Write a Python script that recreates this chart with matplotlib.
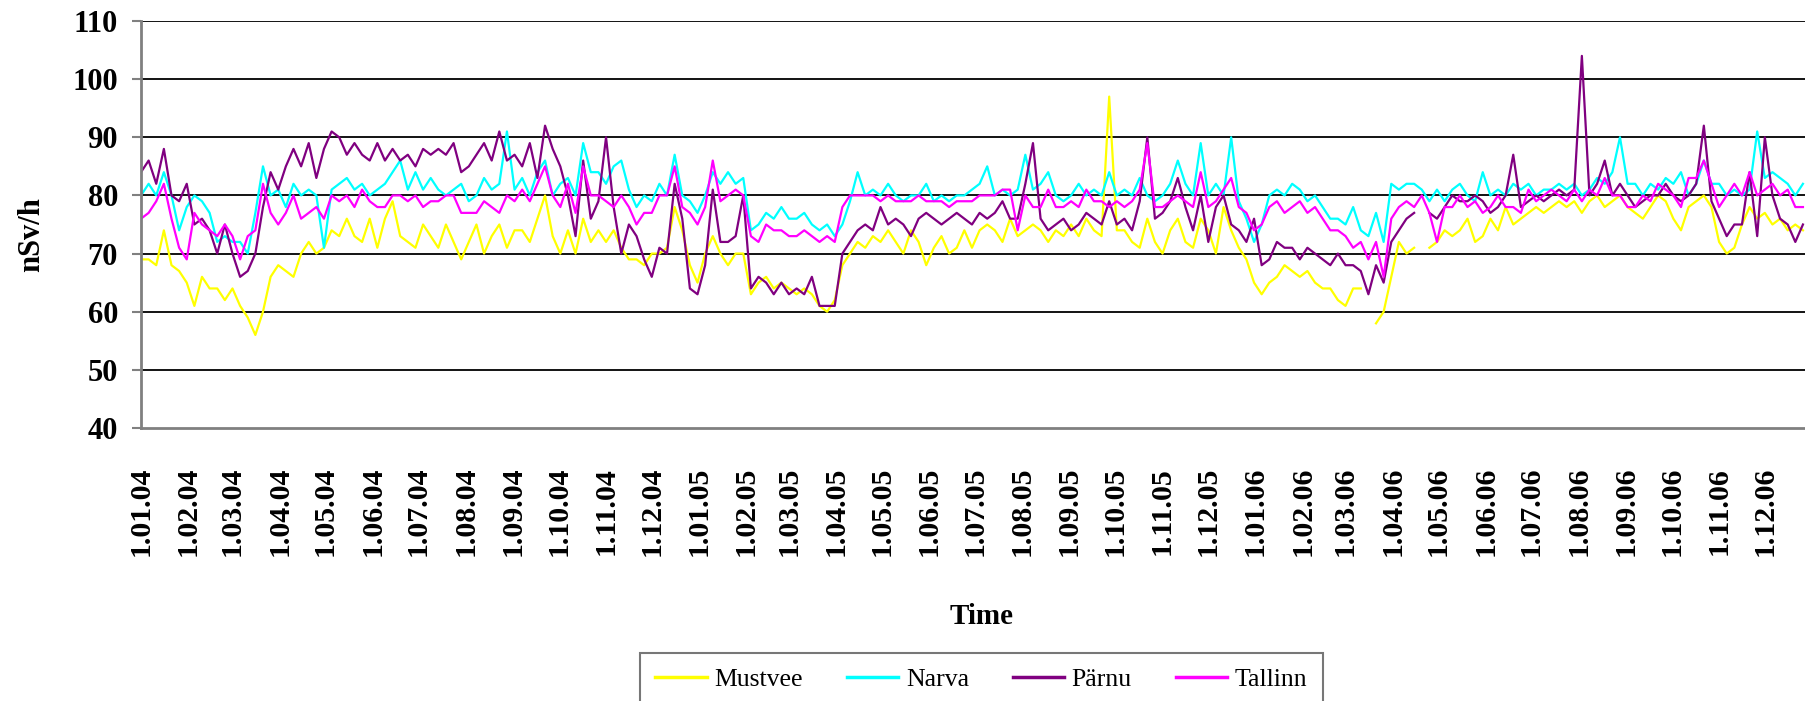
import numpy as np
import matplotlib
matplotlib.use("Agg")
import matplotlib.pyplot as plt
import matplotlib.dates as mdates
from matplotlib.ticker import FuncFormatter

plt.rcParams['font.family'] = ['Liberation Serif', 'DejaVu Serif']

# daily dose rate sampled every 5 days starting 1.01.2004 (nSv/h)
start = np.datetime64('2004-01-01')
step_days = 5

mustvee = [
    69, 69, 68, 74, 68, 67, 65, 61, 66, 64,
    64, 62, 64, 61, 59, 56, 60, 66, 68, 67,
    66, 70, 72, 70, 71, 74, 73, 76, 73, 72,
    76, 71, 76, 79, 73, 72, 71, 75, 73, 71,
    75, 72, 69, 72, 75, 70, 73, 75, 71, 74,
    74, 72, 76, 80, 73, 70, 74, 70, 76, 72,
    74, 72, 74, 71, 69, 69, 68, 70, 70, 71,
    78, 74, 68, 65, 70, 73, 70, 68, 70, 70,
    63, 65, 66, 64, 65, 64, 63, 64, 63, 61,
    60, 62, 68, 70, 72, 71, 73, 72, 74, 72,
    70, 74, 72, 68, 71, 73, 70, 71, 74, 71,
    74, 75, 74, 72, 76, 73, 74, 75, 74, 72,
    74, 73, 75, 73, 76, 74, 73, 97, 74, 74,
    72, 71, 76, 72, 70, 74, 76, 72, 71, 76,
    74, 70, 78, 74, 71, 69, 65, 63, 65, 66,
    68, 67, 66, 67, 65, 64, 64, 62, 61, 64,
    64, np.nan, 58, 60, 66, 72, 70, 71, np.nan, 71,
    72, 74, 73, 74, 76, 72, 73, 76, 74, 78,
    75, 76, 77, 78, 77, 78, 79, 78, 79, 77,
    79, 80, 78, 79, 80, 78, 77, 76, 78, 80,
    79, 76, 74, 78, 79, 80, 78, 72, 70, 71,
    75, 78, 76, 77, 75, 76, 74, 75, 74,
]

narva = [
    80, 82, 80, 84, 80, 74, 78, 80, 79, 77,
    72, 73, 72, 72, 70, 77, 85, 80, 81, 78,
    82, 80, 81, 80, 71, 81, 82, 83, 81, 82,
    80, 81, 82, 84, 86, 81, 84, 81, 83, 81,
    80, 81, 82, 79, 80, 83, 81, 82, 91, 81,
    83, 80, 84, 86, 80, 82, 83, 80, 89, 84,
    84, 82, 85, 86, 81, 78, 80, 79, 82, 80,
    87, 80, 79, 77, 80, 84, 82, 84, 82, 83,
    74, 75, 77, 76, 78, 76, 76, 77, 75, 74,
    75, 73, 75, 79, 84, 80, 81, 80, 82, 80,
    79, 80, 80, 82, 79, 80, 79, 80, 80, 81,
    82, 85, 80, 81, 80, 81, 87, 81, 82, 84,
    80, 79, 80, 82, 80, 81, 80, 84, 80, 81,
    80, 83, 80, 79, 80, 82, 86, 82, 80, 89,
    80, 82, 80, 90, 79, 76, 72, 75, 80, 81,
    80, 82, 81, 79, 80, 78, 76, 76, 75, 78,
    74, 73, 77, 72, 82, 81, 82, 82, 81, 79,
    81, 79, 81, 82, 80, 79, 84, 80, 81, 80,
    82, 81, 82, 80, 81, 81, 82, 81, 82, 80,
    81, 83, 82, 84, 90, 82, 82, 80, 82, 81,
    83, 82, 84, 80, 82, 86, 82, 82, 80, 81,
    80, 81, 91, 83, 84, 83, 82, 80, 82,
]

parnu = [
    84, 86, 82, 88, 80, 79, 82, 75, 76, 74,
    70, 75, 70, 66, 67, 70, 78, 84, 81, 85,
    88, 85, 89, 83, 88, 91, 90, 87, 89, 87,
    86, 89, 86, 88, 86, 87, 85, 88, 87, 88,
    87, 89, 84, 85, 87, 89, 86, 91, 86, 87,
    85, 89, 83, 92, 88, 85, 80, 73, 86, 76,
    79, 90, 78, 70, 75, 73, 69, 66, 71, 70,
    82, 76, 64, 63, 68, 81, 72, 72, 73, 80,
    64, 66, 65, 63, 65, 63, 64, 63, 66, 61,
    61, 61, 70, 72, 74, 75, 74, 78, 75, 76,
    75, 73, 76, 77, 76, 75, 76, 77, 76, 75,
    77, 76, 77, 79, 76, 76, 82, 89, 76, 74,
    75, 76, 74, 75, 77, 76, 75, 79, 75, 76,
    74, 79, 90, 76, 77, 79, 83, 78, 74, 80,
    72, 78, 80, 75, 74, 72, 76, 68, 69, 72,
    71, 71, 69, 71, 70, 69, 68, 70, 68, 68,
    67, 63, 68, 65, 72, 74, 76, 77, np.nan, 77,
    76, 78, 80, 79, 79, 80, 79, 77, 78, 80,
    87, 78, 79, 80, 79, 80, 81, 80, 81, 104,
    80, 82, 86, 80, 82, 80, 78, 79, 80, 80,
    82, 80, 79, 80, 82, 92, 79, 76, 73, 75,
    75, 84, 73, 90, 80, 76, 75, 72, 75,
]

tallinn = [
    76, 77, 79, 82, 76, 71, 69, 77, 75, 74,
    73, 75, 73, 69, 73, 74, 82, 77, 75, 77,
    80, 76, 77, 78, 76, 80, 79, 80, 78, 81,
    79, 78, 78, 80, 80, 79, 80, 78, 79, 79,
    80, 80, 77, 77, 77, 79, 78, 77, 80, 79,
    81, 79, 82, 85, 80, 78, 82, 77, 85, 80,
    80, 79, 78, 80, 78, 75, 77, 77, 80, 80,
    85, 78, 77, 75, 78, 86, 79, 80, 81, 80,
    73, 72, 75, 74, 74, 73, 73, 74, 73, 72,
    73, 72, 78, 80, 80, 80, 80, 79, 80, 79,
    79, 79, 80, 79, 79, 79, 78, 79, 79, 79,
    80, 80, 80, 81, 81, 74, 80, 78, 78, 81,
    78, 78, 79, 78, 81, 79, 79, 78, 79, 78,
    79, 81, 89, 78, 78, 79, 80, 79, 78, 84,
    78, 79, 81, 83, 78, 77, 74, 75, 78, 79,
    77, 78, 79, 77, 78, 76, 74, 74, 73, 71,
    72, 69, 72, 66, 76, 78, 79, 78, 80, 77,
    72, 78, 78, 80, 78, 79, 77, 78, 80, 78,
    78, 77, 81, 79, 80, 81, 80, 79, 81, 79,
    81, 80, 83, 80, 80, 78, 78, 80, 79, 82,
    81, 80, 78, 83, 83, 86, 82, 78, 80, 82,
    80, 84, 80, 81, 82, 80, 81, 78, 78,
]

names = ["Mustvee", "Narva", "Pärnu", "Tallinn"]
colors = ["#FFFF00", "#00FFFF", "#800080", "#FF00FF"]
series = [mustvee, narva, parnu, tallinn]

dates = start + np.arange(len(mustvee)) * step_days

fig = plt.figure(figsize=(18.06, 7.01), dpi=100)
ax = fig.add_axes([141 / 1806, 1 - 428 / 701, 1 - 141 / 1806, (428 - 21) / 701])

for name, col, vals in zip(names, colors, series):
    ax.plot(dates.astype('datetime64[D]').astype(object), vals, color=col, lw=1.6, label=name)

ax.set_ylim(40, 110)
ax.set_yticks(range(40, 111, 10))
ax.set_xlim(np.datetime64('2004-01-01').astype(object), (start + 1092).astype(object))

ax.xaxis.set_major_locator(mdates.MonthLocator())
ax.xaxis.set_major_formatter(FuncFormatter(
    lambda v, pos: "{}.{:02d}.{:02d}".format(mdates.num2date(v).day, mdates.num2date(v).month,
                                           mdates.num2date(v).year % 100)))

for y in range(50, 111, 10):
    ax.axhline(y, color="black", lw=1.3, zorder=0)

for s in ["top", "right"]:
    ax.spines[s].set_visible(False)
ax.spines["left"].set_color("#808080")
ax.spines["bottom"].set_color("#808080")
ax.spines["left"].set_linewidth(2)
ax.spines["bottom"].set_linewidth(2)

ax.tick_params(axis="y", length=6.5, width=1.5, color="#808080", pad=10, labelsize=22)
ax.tick_params(axis="x", length=0, pad=28, labelsize=21.5, labelrotation=90)
for lab in ax.get_xticklabels() + ax.get_yticklabels():
    lab.set_fontweight("bold")

fig.text(32 / 1806, 1 - 235 / 701, "nSv/h", rotation=90, ha="center", va="center",
         fontsize=22, fontweight="bold")
fig.text(982 / 1806, 1 - 616 / 701, "Time", ha="center", va="center",
         fontsize=21, fontweight="bold")

leg = fig.legend(loc="upper left", bbox_to_anchor=(640 / 1806, 1 - 653 / 701), ncol=4,
                 frameon=True, fancybox=False, fontsize=18.5, handlelength=2.0,
                 handletextpad=0.3, columnspacing=1.7, borderpad=0.6, borderaxespad=0)
leg.get_frame().set_edgecolor("#555555")
leg.get_frame().set_linewidth(1.5)
for line in leg.get_lines():
    line.set_linewidth(2.5)

fig.savefig("out.png", dpi=100)
